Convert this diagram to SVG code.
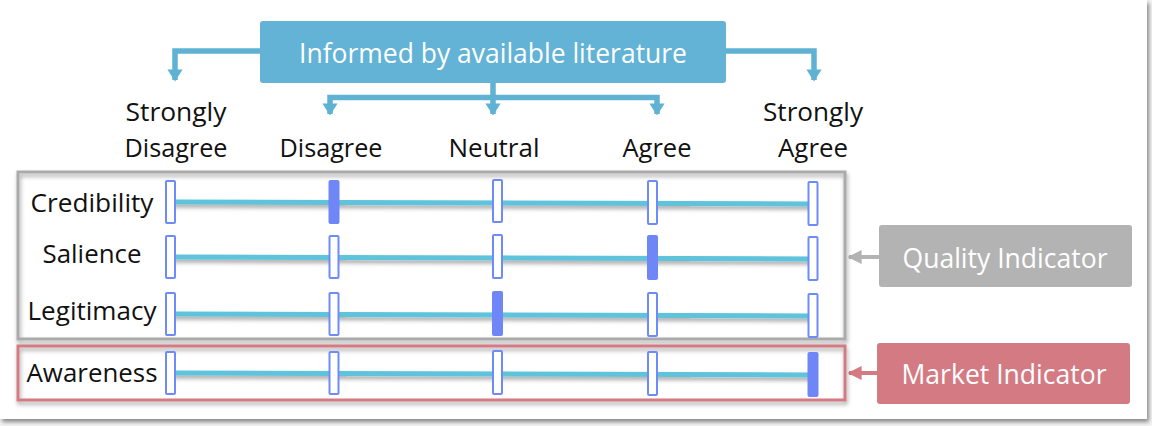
<svg xmlns="http://www.w3.org/2000/svg" width="1152" height="426" viewBox="0 0 1152 426">
<style>
.lbl{font-family:"Open Sans","Liberation Sans",sans-serif;font-size:26px;font-weight:500;fill:#111;text-anchor:middle}
.wt{font-family:"Open Sans","Liberation Sans",sans-serif;font-size:28px;font-weight:500;fill:#fff;text-anchor:middle}
.conn{fill:none;stroke:#5FB2D4;stroke-width:5.5}
.scale{stroke:#5EC3DC;stroke-width:5;fill:none}
.m{fill:#fff;stroke:#6E8BF7;stroke-width:2}
.mf{fill:#6E86F6;stroke:#6E86F6;stroke-width:2}
</style>
<defs>
<filter id="sh" x="-5%" y="-20%" width="110%" height="150%">
<feDropShadow dx="1" dy="3" stdDeviation="2" flood-color="#000" flood-opacity="0.35"/>
</filter>
<filter id="fsh" x="-2%" y="-2%" width="104%" height="104%">
<feDropShadow dx="2" dy="3" stdDeviation="2" flood-color="#000" flood-opacity="0.45"/>
</filter>
<marker id="ab" viewBox="0 0 8 10" refX="7" refY="5" markerWidth="2.2" markerHeight="2.9" orient="auto" markerUnits="strokeWidth">
<path d="M0,0 L8,5 L0,10 Z" fill="#5FB2D4"/>
</marker>
<marker id="ag" viewBox="0 0 10 10" refX="9" refY="5" markerWidth="3.5" markerHeight="3.5" orient="auto" markerUnits="strokeWidth">
<path d="M0,0 L10,5 L0,10 Z" fill="#B3B3B3"/>
</marker>
<marker id="ap" viewBox="0 0 10 10" refX="9" refY="5" markerWidth="3.5" markerHeight="3.5" orient="auto" markerUnits="strokeWidth">
<path d="M0,0 L10,5 L0,10 Z" fill="#D47A83"/>
</marker>
</defs>
<rect x="0" y="0" width="1152" height="426" fill="#f4f4f4"/>
<rect x="0" y="0" width="1147" height="419" fill="#fff" filter="url(#fsh)"/>

<g id="connectors">
<path class="conn" d="M261,51 H175 V80" marker-end="url(#ab)"/>
<path class="conn" d="M726,51 H814 V80" marker-end="url(#ab)"/>
<path class="conn" d="M493,83 V114" marker-end="url(#ab)"/>
<path class="conn" d="M493,97.5 H330 V114" marker-end="url(#ab)"/>
<path class="conn" d="M493,97.5 H657 V114" marker-end="url(#ab)"/>
<path d="M879,257 H849" stroke="#B3B3B3" stroke-width="4" fill="none" marker-end="url(#ag)"/>
<path d="M877,373 H849" stroke="#D47A83" stroke-width="4" fill="none" marker-end="url(#ap)"/>
</g>

<g id="source">
<rect x="260" y="21" width="466" height="62" rx="3" fill="#62B3D6"/>
<text class="wt" x="493" y="63" textLength="388" lengthAdjust="spacingAndGlyphs">Informed by available literature</text>
</g>

<g id="columns">
<text class="lbl" x="176" y="121" textLength="101" lengthAdjust="spacingAndGlyphs">Strongly</text>
<text class="lbl" x="176" y="157" textLength="103" lengthAdjust="spacingAndGlyphs">Disagree</text>
<text class="lbl" x="331" y="157" textLength="103" lengthAdjust="spacingAndGlyphs">Disagree</text>
<text class="lbl" x="494" y="157" textLength="91" lengthAdjust="spacingAndGlyphs">Neutral</text>
<text class="lbl" x="657" y="157" textLength="69" lengthAdjust="spacingAndGlyphs">Agree</text>
<text class="lbl" x="813" y="121" textLength="100" lengthAdjust="spacingAndGlyphs">Strongly</text>
<text class="lbl" x="813" y="157" textLength="70" lengthAdjust="spacingAndGlyphs">Agree</text>
</g>

<g id="quality-group">
<rect x="18" y="172" width="827" height="167" fill="none" stroke="#AAAAAA" stroke-width="3" filter="url(#sh)"/>
</g>
<g id="market-group">
<rect x="18" y="346" width="827" height="54" fill="none" stroke="#D47A83" stroke-width="3" filter="url(#sh)"/>
</g>

<g id="scales" filter="url(#sh)">
<path class="scale" d="M172,202 L813,204"/>
<path class="scale" d="M172,257 L813,259"/>
<path class="scale" d="M172,314 L813,316"/>
<path class="scale" d="M172,373 L813,375"/>
</g>

<g id="row-credibility">
<text class="lbl" x="92" y="212" textLength="123" lengthAdjust="spacingAndGlyphs">Credibility</text>
<rect class="m" x="166" y="181" width="9" height="42" rx="1"/>
<rect class="mf" x="329.5" y="181" width="9" height="42" rx="1"/>
<rect class="m" x="493" y="180" width="9" height="42" rx="1"/>
<rect class="m" x="648" y="181" width="9" height="43" rx="1"/>
<rect class="m" x="808.5" y="182" width="9" height="43" rx="1"/>
</g>
<g id="row-salience">
<text class="lbl" x="92" y="263" textLength="99" lengthAdjust="spacingAndGlyphs">Salience</text>
<rect class="m" x="166" y="236" width="9" height="42" rx="1"/>
<rect class="m" x="329.5" y="236" width="9" height="42" rx="1"/>
<rect class="m" x="493" y="235" width="9" height="43" rx="1"/>
<rect class="mf" x="648" y="236" width="9" height="43" rx="1"/>
<rect class="m" x="808.5" y="237" width="9" height="43" rx="1"/>
</g>
<g id="row-legitimacy">
<text class="lbl" x="92" y="320" textLength="129" lengthAdjust="spacingAndGlyphs">Legitimacy</text>
<rect class="m" x="166" y="293" width="9" height="42" rx="1"/>
<rect class="m" x="329.5" y="293" width="9" height="42" rx="1"/>
<rect class="mf" x="493" y="292" width="9" height="43" rx="1"/>
<rect class="m" x="648" y="293" width="9" height="43" rx="1"/>
<rect class="m" x="808.5" y="294" width="9" height="43" rx="1"/>
</g>
<g id="row-awareness">
<text class="lbl" x="92" y="382" textLength="131" lengthAdjust="spacingAndGlyphs">Awareness</text>
<rect class="m" x="166" y="352" width="9" height="42" rx="1"/>
<rect class="m" x="329.5" y="352" width="9" height="42" rx="1"/>
<rect class="m" x="493" y="351" width="9" height="43" rx="1"/>
<rect class="m" x="648" y="352" width="9" height="43" rx="1"/>
<rect class="mf" x="808.5" y="353" width="9" height="43" rx="1"/>
</g>

<g id="quality-indicator">
<rect x="879" y="225" width="253" height="62" rx="3" fill="#B3B3B3"/>
<text class="wt" x="1005" y="268" textLength="205" lengthAdjust="spacingAndGlyphs">Quality Indicator</text>
</g>
<g id="market-indicator">
<rect x="877" y="343" width="253" height="61" rx="3" fill="#D47A83"/>
<text class="wt" x="1004" y="384" textLength="205" lengthAdjust="spacingAndGlyphs">Market Indicator</text>
</g>
</svg>
